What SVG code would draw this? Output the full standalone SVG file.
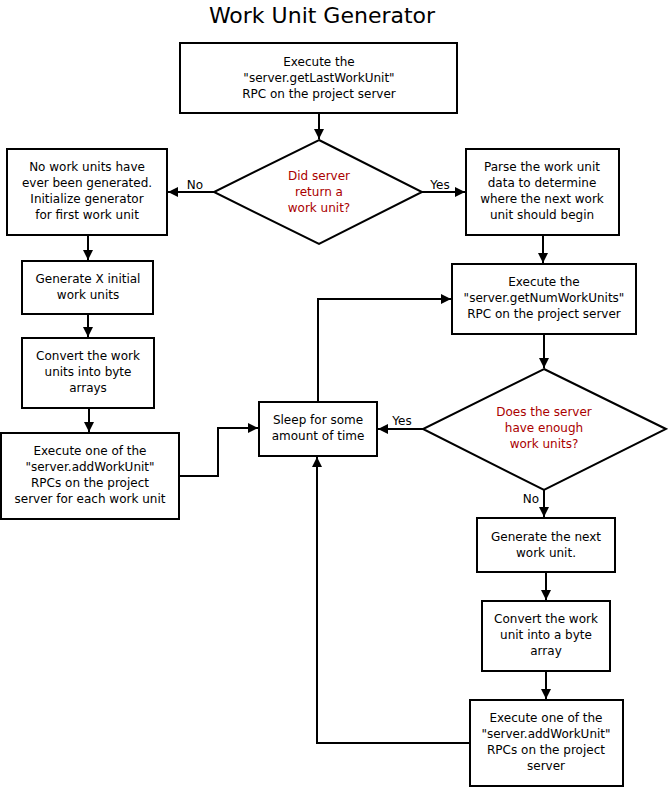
<svg xmlns="http://www.w3.org/2000/svg" width="668" height="787" viewBox="0 0 668 787">
<style>
.b{fill:#fff;stroke:#000;stroke-width:2}
.t{font-family:"DejaVu Sans",sans-serif;font-size:12px;text-anchor:middle;fill:#000}
.r{fill:#aa0000}
.c{fill:none;stroke:#000;stroke-width:2}
.l{font-family:"DejaVu Sans",sans-serif;font-size:12px;text-anchor:middle;fill:#000}
</style>
<defs>
<marker id="ah" markerUnits="userSpaceOnUse" markerWidth="12" markerHeight="12" viewBox="0 0 12 12" refX="11" refY="6" orient="auto">
<path d="M1,1 L11,6 L1,11 Z" fill="#000"/>
</marker>
</defs>
<rect width="668" height="787" fill="#fff"/>
<text x="322" y="23" font-family="DejaVu Sans,sans-serif" font-size="22" text-anchor="middle">Work Unit Generator</text>

<g id="connectors">
<path class="c" d="M319,113 V139" marker-end="url(#ah)"/>
<path class="c" d="M214,192 H168" marker-end="url(#ah)"/>
<path class="c" d="M422,192 H465" marker-end="url(#ah)"/>
<path class="c" d="M88,235 V260" marker-end="url(#ah)"/>
<path class="c" d="M88,314 V337" marker-end="url(#ah)"/>
<path class="c" d="M89,408 V432" marker-end="url(#ah)"/>
<path class="c" d="M179,476 H218 V428 H258" marker-end="url(#ah)"/>
<path class="c" d="M318,402 V299 H451" marker-end="url(#ah)"/>
<path class="c" d="M543,235 V263" marker-end="url(#ah)"/>
<path class="c" d="M544,334 V368" marker-end="url(#ah)"/>
<path class="c" d="M423,429 H378" marker-end="url(#ah)"/>
<path class="c" d="M544,490 V517" marker-end="url(#ah)"/>
<path class="c" d="M546,572 V600" marker-end="url(#ah)"/>
<path class="c" d="M546,671 V699" marker-end="url(#ah)"/>
<path class="c" d="M470,743 H317 V457" marker-end="url(#ah)"/>
<text class="l" x="195" y="189">No</text>
<text class="l" x="440" y="189">Yes</text>
<text class="l" x="402" y="425">Yes</text>
<text class="l" x="531" y="503">No</text>
</g>

<g id="n1">
<rect class="b" x="180" y="43" width="277" height="70"/>
<text class="t" x="319" y="66">Execute the</text>
<text class="t" x="319" y="82">"server.getLastWorkUnit"</text>
<text class="t" x="319" y="98">RPC on the project server</text>
</g>
<g id="d1">
<polygon class="b" points="319,140 422,192 319,244 214,192"/>
<text class="t r" x="319" y="180">Did server</text>
<text class="t r" x="319" y="196">return a</text>
<text class="t r" x="319" y="212">work unit?</text>
</g>
<g id="n2">
<rect class="b" x="7" y="149" width="160" height="86"/>
<text class="t" x="87" y="171">No work units have</text>
<text class="t" x="87" y="187">ever been generated.</text>
<text class="t" x="87" y="203">Initialize generator</text>
<text class="t" x="87" y="219">for first work unit</text>
</g>
<g id="n3">
<rect class="b" x="466" y="149" width="153" height="86"/>
<text class="t" x="542" y="171">Parse the work unit</text>
<text class="t" x="542" y="187">data to determine</text>
<text class="t" x="542" y="203">where the next work</text>
<text class="t" x="542" y="219">unit should begin</text>
</g>
<g id="n4">
<rect class="b" x="22" y="261" width="131" height="53"/>
<text class="t" x="88" y="283">Generate X initial</text>
<text class="t" x="88" y="299">work units</text>
</g>
<g id="n5">
<rect class="b" x="22" y="338" width="132" height="70"/>
<text class="t" x="88" y="360">Convert the work</text>
<text class="t" x="88" y="376">units into byte</text>
<text class="t" x="88" y="392">arrays</text>
</g>
<g id="n6">
<rect class="b" x="1" y="433" width="178" height="86"/>
<text class="t" x="90" y="455">Execute one of the</text>
<text class="t" x="90" y="471">"server.addWorkUnit"</text>
<text class="t" x="90" y="487">RPCs on the project</text>
<text class="t" x="90" y="503">server for each work unit</text>
</g>
<g id="n7">
<rect class="b" x="259" y="402" width="118" height="54"/>
<text class="t" x="318" y="424">Sleep for some</text>
<text class="t" x="318" y="440">amount of time</text>
</g>
<g id="n8">
<rect class="b" x="452" y="264" width="184" height="70"/>
<text class="t" x="544" y="286">Execute the</text>
<text class="t" x="544" y="302">"server.getNumWorkUnits"</text>
<text class="t" x="544" y="318">RPC on the project server</text>
</g>
<g id="d2">
<polygon class="b" points="544,369 666,429 544,490 423,429"/>
<text class="t r" x="544" y="416">Does the server</text>
<text class="t r" x="544" y="432">have enough</text>
<text class="t r" x="544" y="448">work units?</text>
</g>
<g id="n9">
<rect class="b" x="477" y="518" width="138" height="54"/>
<text class="t" x="546" y="541">Generate the next</text>
<text class="t" x="546" y="557">work unit.</text>
</g>
<g id="n10">
<rect class="b" x="482" y="601" width="128" height="70"/>
<text class="t" x="546" y="623">Convert the work</text>
<text class="t" x="546" y="639">unit into a byte</text>
<text class="t" x="546" y="655">array</text>
</g>
<g id="n11">
<rect class="b" x="470" y="700" width="153" height="86"/>
<text class="t" x="546" y="722">Execute one of the</text>
<text class="t" x="546" y="738">"server.addWorkUnit"</text>
<text class="t" x="546" y="754">RPCs on the project</text>
<text class="t" x="546" y="770">server</text>
</g>
</svg>
